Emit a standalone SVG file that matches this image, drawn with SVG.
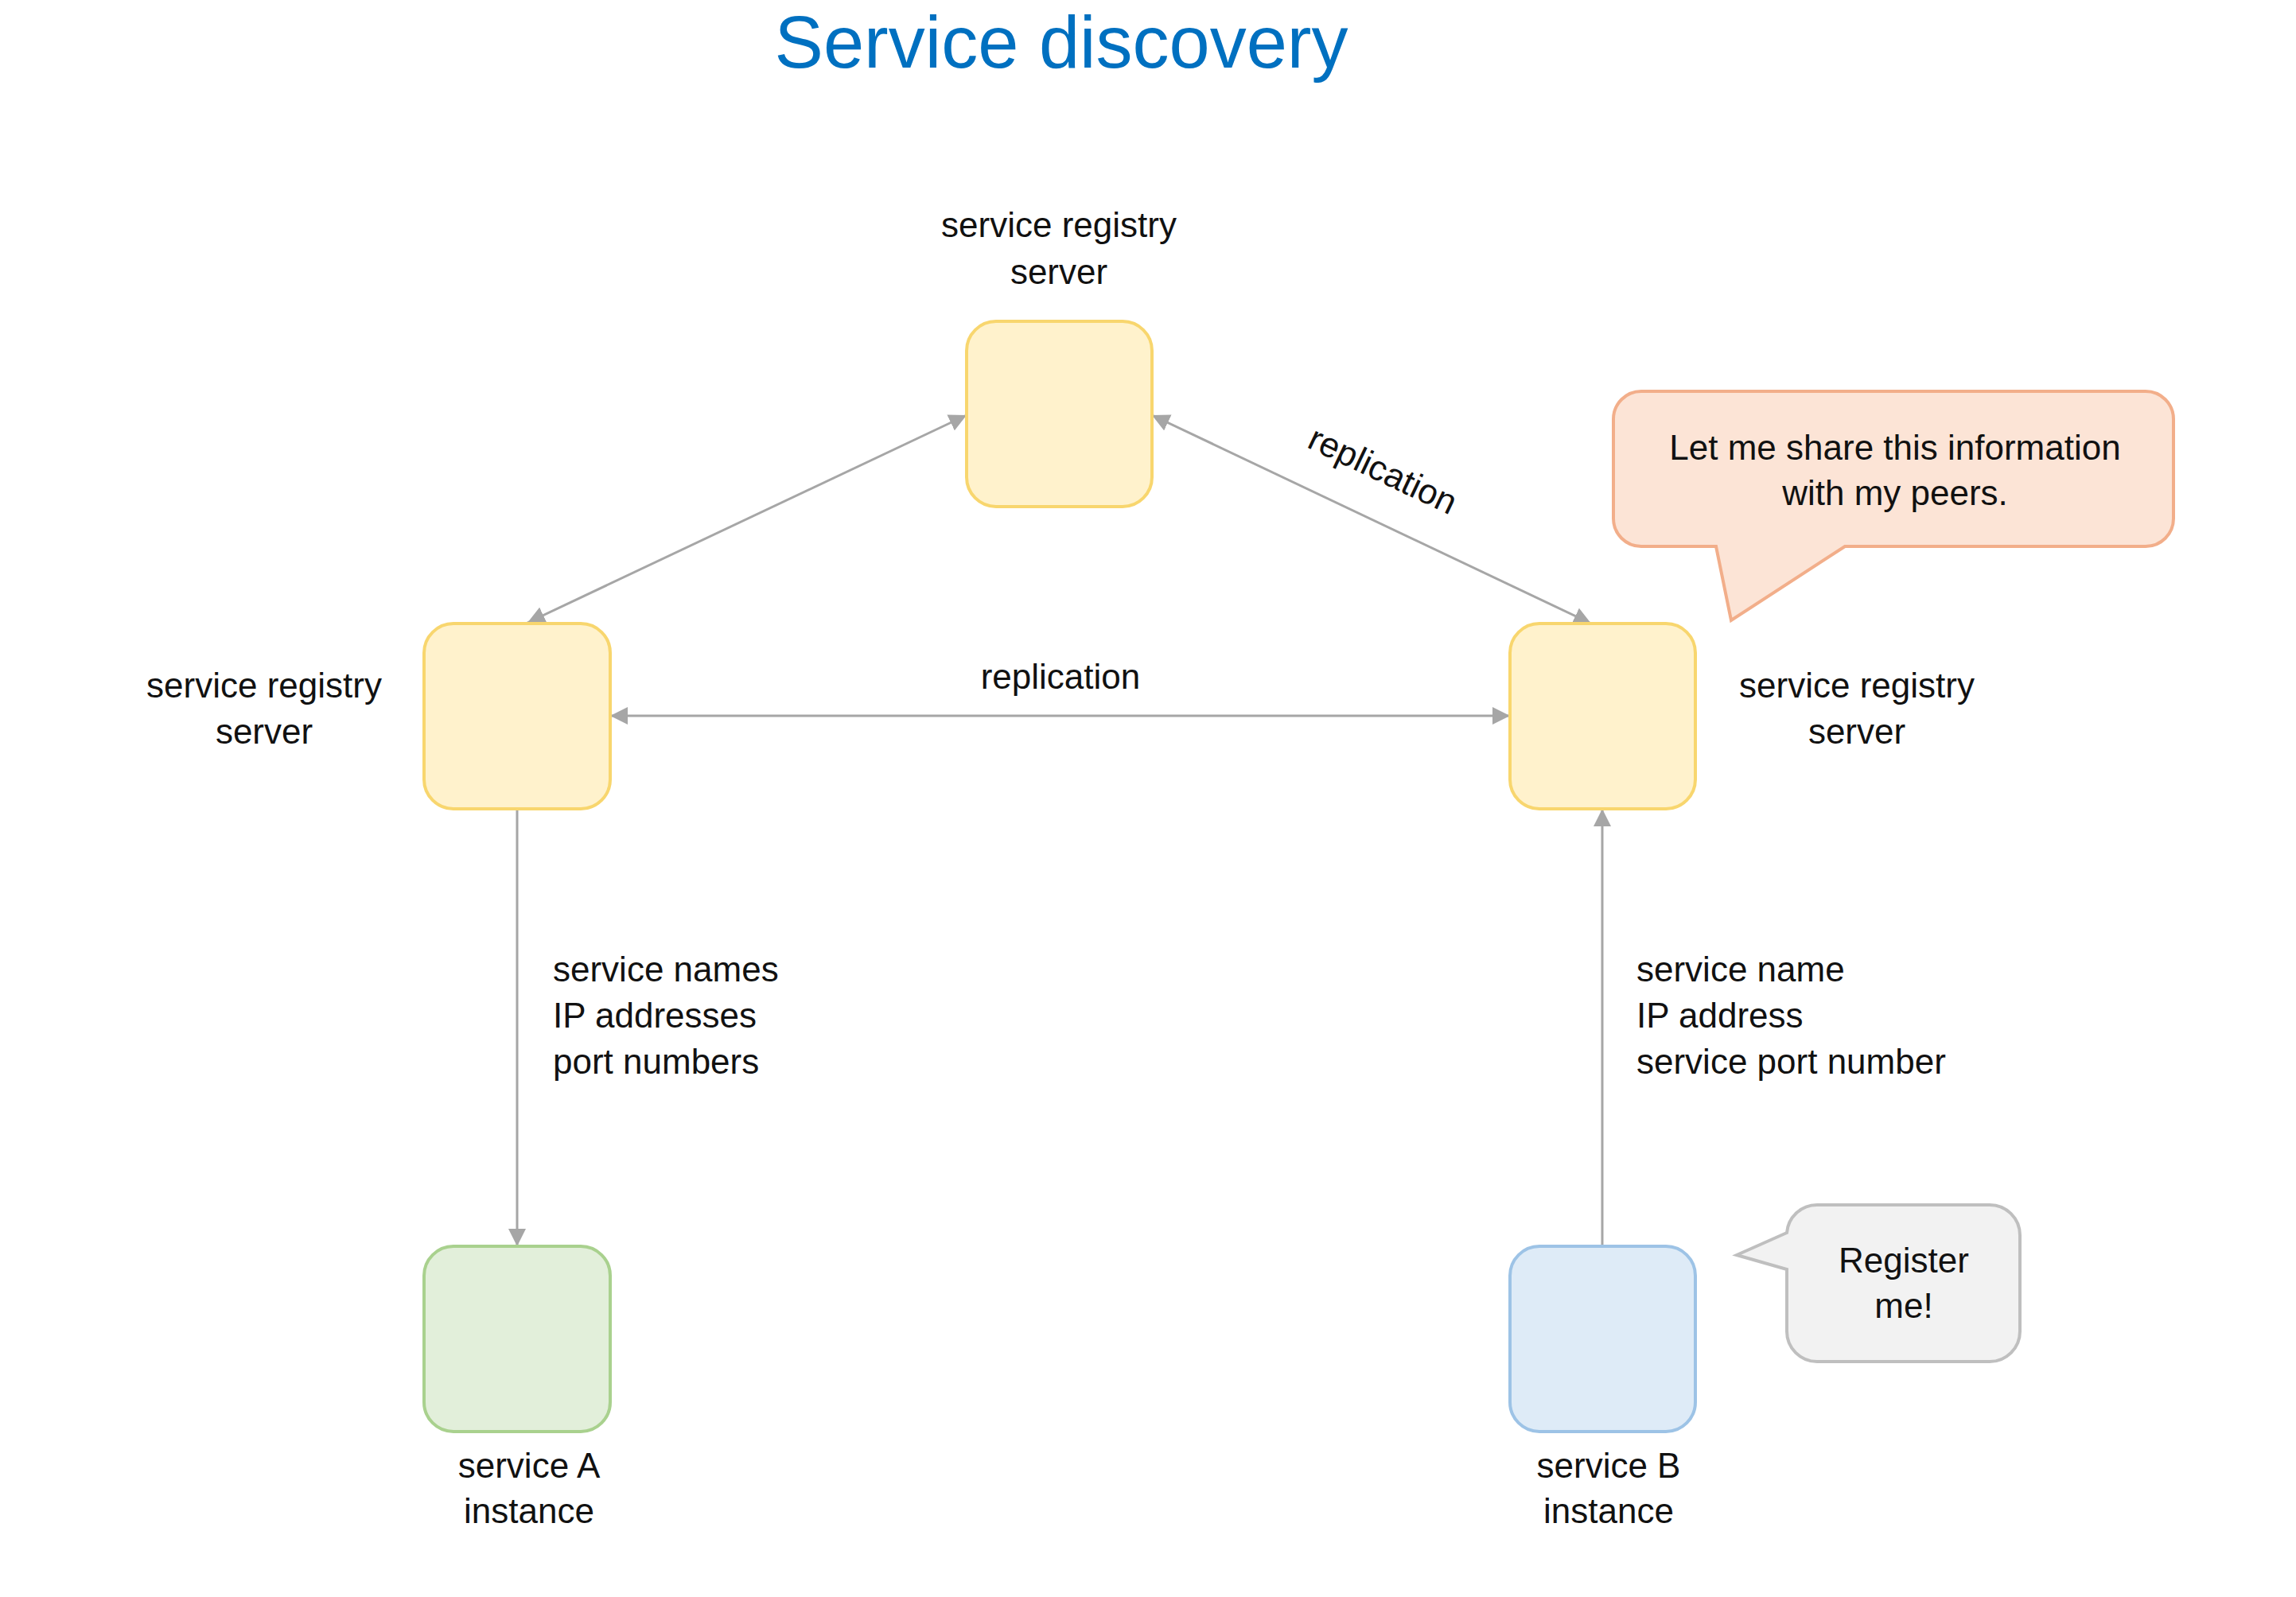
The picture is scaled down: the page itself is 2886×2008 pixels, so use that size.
<svg xmlns="http://www.w3.org/2000/svg" width="2886" height="2008" viewBox="0 0 2886 2008">
<style>
text{font-family:"Liberation Sans",Arial,sans-serif;font-size:44px;fill:#111}
.title{font-size:92px;fill:#0070C0}
.mid{text-anchor:middle}
.reg{fill:#FFF2CC;stroke:#F8D66E;stroke-width:4}
.svcA{fill:#E2EFDA;stroke:#A9D18E;stroke-width:4}
.svcB{fill:#DEEBF7;stroke:#9DC3E6;stroke-width:4}
.conn{stroke:#A6A6A6;stroke-width:3;fill:none}
</style>
<defs>
<marker id="ah" viewBox="0 0 22 22" markerUnits="userSpaceOnUse" markerWidth="22" markerHeight="22" refX="22" refY="11" orient="auto-start-reverse">
<path d="M0,0 L22,11 L0,22 Z" fill="#A6A6A6"/>
</marker>
</defs>
<rect width="2886" height="2008" fill="#ffffff"/>
<text class="title mid" x="1334" y="85">Service discovery</text>

<g id="connectors">
<line class="conn" x1="663" y1="783" x2="1215" y2="522" marker-start="url(#ah)" marker-end="url(#ah)"/>
<line class="conn" x1="1448" y1="522" x2="2000" y2="784" marker-start="url(#ah)" marker-end="url(#ah)"/>
<line class="conn" x1="767" y1="900" x2="1898" y2="900" marker-start="url(#ah)" marker-end="url(#ah)"/>
<line class="conn" x1="650" y1="1017" x2="650" y2="1567" marker-end="url(#ah)"/>
<line class="conn" x1="2014" y1="1567" x2="2014" y2="1017" marker-end="url(#ah)"/>
<text class="mid" x="1333" y="866">replication</text>
<text class="mid" transform="translate(1737,594) rotate(25.4)" x="0" y="12">replication</text>
<text x="695" y="1234">service names</text>
<text x="695" y="1292">IP addresses</text>
<text x="695" y="1350">port numbers</text>
<text x="2057" y="1234">service name</text>
<text x="2057" y="1292">IP address</text>
<text x="2057" y="1350">service port number</text>
</g>

<g id="registry-top">
<rect class="reg" x="1215" y="404" width="233" height="233" rx="37"/>
<text class="mid" x="1331" y="298">service registry</text>
<text class="mid" x="1331" y="357">server</text>
</g>
<g id="registry-left">
<rect class="reg" x="533" y="784" width="234" height="233" rx="37"/>
<text class="mid" x="332" y="877">service registry</text>
<text class="mid" x="332" y="935">server</text>
</g>
<g id="registry-right">
<rect class="reg" x="1898" y="784" width="233" height="233" rx="37"/>
<text class="mid" x="2334" y="877">service registry</text>
<text class="mid" x="2334" y="935">server</text>
</g>
<g id="service-a">
<rect class="svcA" x="533" y="1567" width="234" height="233" rx="37"/>
<text class="mid" x="665" y="1858">service A</text>
<text class="mid" x="665" y="1915">instance</text>
</g>
<g id="service-b">
<rect class="svcB" x="1898" y="1567" width="233" height="233" rx="37"/>
<text class="mid" x="2022" y="1858">service B</text>
<text class="mid" x="2022" y="1915">instance</text>
</g>
<g id="callout-share">
<path d="M2063,492 H2697 A35,35 0 0 1 2732,527 V652 A35,35 0 0 1 2697,687 H2319 L2176,780 L2157,687 H2063 A35,35 0 0 1 2028,652 V527 A35,35 0 0 1 2063,492 Z" fill="#FCE4D6" stroke="#F2AE8A" stroke-width="4"/>
<text class="mid" x="2382" y="578">Let me share this information</text>
<text class="mid" x="2382" y="635">with my peers.</text>
</g>
<g id="callout-register">
<path d="M2284,1515 H2501 A38,38 0 0 1 2539,1553 V1674 A38,38 0 0 1 2501,1712 H2284 A38,38 0 0 1 2246,1674 V1596 L2183,1578 L2246,1550 A38,38 0 0 1 2284,1515 Z" fill="#F2F2F2" stroke="#BFBFBF" stroke-width="4"/>
<text class="mid" x="2393" y="1600">Register</text>
<text class="mid" x="2393" y="1657">me!</text>
</g>
</svg>
